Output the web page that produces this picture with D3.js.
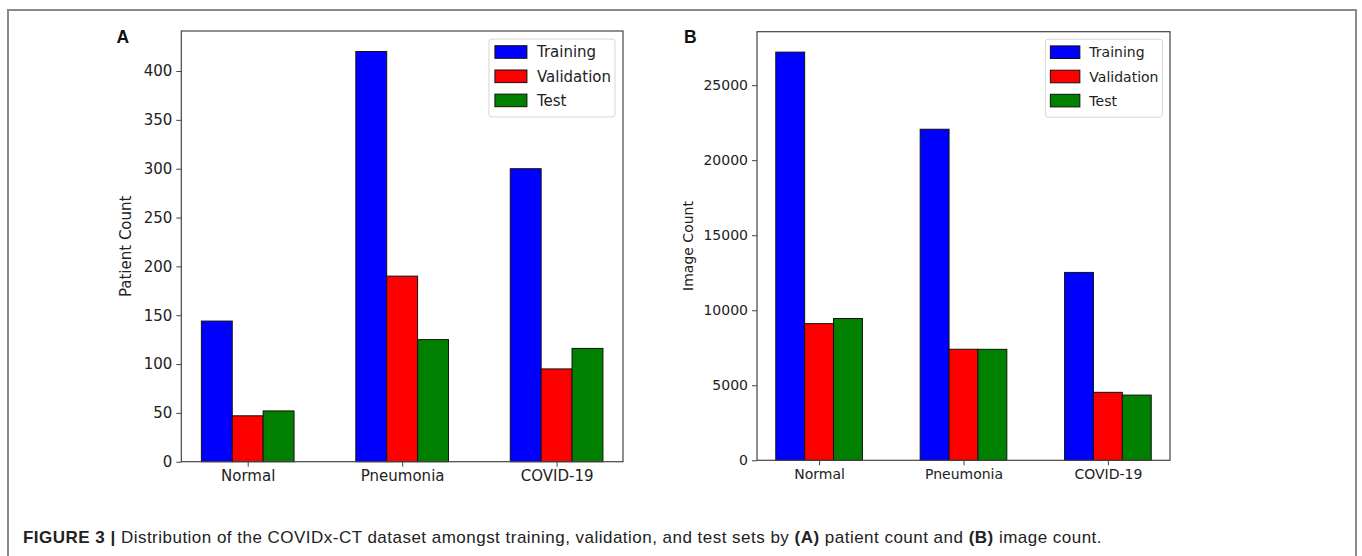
<!DOCTYPE html>
<html>
<head>
<meta charset="utf-8">
<script src="https://cdn.jsdelivr.net/npm/d3@7"></script>
<style>
  body { margin: 0; background: #fff; }
  svg { display: block; }
  .tick text { font-family: "DejaVu Sans", sans-serif; fill: #222; }
</style>
</head>
<body>
<svg id="fig" width="1362" height="556"></svg>
<script>
// categories and series
var categories = ["Normal", "Pneumonia", "COVID-19"];
var seriesNames = ["Training", "Validation", "Test"];
var seriesColors = ["#0000ff", "#ff0000", "#008000"];

// panel A: patient counts per category
var patientTraining = [144, 420, 300];
var patientValidation = [47, 190, 95];
var patientTest = [52, 125, 116];
var patientTicks = [0, 50, 100, 150, 200, 250, 300, 350, 400];

// panel B: image counts
var imageTraining = [27201, 22061, 12520];
var imageValidation = [9107, 7400, 4529];
var imageTest = [9450, 7395, 4346];
var imageTicks = [0, 5000, 10000, 15000, 20000, 25000];

var svg = d3.select("#fig");

// outer figure frame (open at the bottom)
svg.append("path")
    .attr("d", "M8,556 V10 H1356 V556")
    .attr("fill", "none")
    .attr("stroke", "#8a8a8a")
    .attr("stroke-width", 2);

function drawPanel(cfg) {
    var g = svg.append("g");
    var series = [cfg.training, cfg.validation, cfg.test];
    var barW = 0.2;

    // matplotlib style limits: bar extent plus 5% margin, y up to max*1.05
    var lo = -barW * 1.5, hi = categories.length - 1 + barW * 1.5;
    var pad = (hi - lo) * 0.05;
    var x = d3.scaleLinear().domain([lo - pad, hi + pad]).range([cfg.left, cfg.right]);
    var ymax = d3.max(series, function(s) { return d3.max(s); }) * 1.05;
    var y = d3.scaleLinear().domain([0, ymax]).range([cfg.bottom, cfg.top]);

    var bars = [];
    series.forEach(function(s, si) {
        s.forEach(function(v, ci) {
            bars.push({ci: ci, si: si, v: v});
        });
    });

    g.selectAll("rect.bar").data(bars).enter().append("rect")
        .attr("class", "bar")
        .attr("x", function(d) { return x(d.ci + (d.si - 1.5) * barW); })
        .attr("width", function(d) { return x(barW) - x(0); })
        .attr("y", function(d) { return y(d.v); })
        .attr("height", function(d) { return y(0) - y(d.v); })
        .attr("fill", function(d) { return seriesColors[d.si]; })
        .attr("stroke", "#111")
        .attr("stroke-width", 1);

    // axes
    var yAxis = d3.axisLeft(y).tickValues(cfg.ticks).tickSize(5).tickPadding(4).tickFormat(d3.format("d"));
    var gy = g.append("g").attr("transform", "translate(" + cfg.left + ",0)").call(yAxis);
    var xAxis = d3.axisBottom(x).tickValues(d3.range(categories.length)).tickSize(5).tickPadding(4)
        .tickFormat(function(i) { return categories[i]; });
    var gx = g.append("g").attr("transform", "translate(0," + cfg.bottom + ")").call(xAxis);
    [gx, gy].forEach(function(a) {
        a.select(".domain").remove();
        a.selectAll(".tick line").attr("stroke", "#444");
        a.selectAll(".tick text").style("font-size", cfg.fs + "px");
    });

    // frame
    g.append("rect")
        .attr("x", cfg.left).attr("y", cfg.top)
        .attr("width", cfg.right - cfg.left).attr("height", cfg.bottom - cfg.top)
        .attr("fill", "none").attr("stroke", "#444").attr("stroke-width", 1.2);

    // y label
    g.append("text")
        .attr("transform", "translate(" + cfg.ylabelX + "," + ((cfg.top + cfg.bottom) / 2) + ") rotate(-90)")
        .attr("text-anchor", "middle")
        .style("font-family", "DejaVu Sans, sans-serif")
        .style("font-size", cfg.fs + "px")
        .attr("fill", "#222")
        .text(cfg.ylabel);

    // panel letter
    g.append("text")
        .attr("x", cfg.letterX).attr("y", 42.5)
        .style("font-family", "Liberation Sans, Arial, sans-serif")
        .style("font-size", "17.5px").style("font-weight", "bold")
        .attr("fill", "#111")
        .text(cfg.letter);

    // legend
    var lg = g.append("g");
    var box = lg.append("rect")
        .attr("fill", "#fff").attr("fill-opacity", 0.8)
        .attr("stroke", "#d6d6d6").attr("rx", 3);
    var rowY = [13, 37.3, 61.4];
    var maxW = 0;
    seriesNames.forEach(function(name, i) {
        lg.append("rect")
            .attr("x", cfg.patchX).attr("y", rowY[i] - 6.3)
            .attr("width", cfg.patchW).attr("height", 12.6)
            .attr("fill", seriesColors[i]).attr("stroke", "#111");
        var t = lg.append("text")
            .attr("x", cfg.patchX + cfg.patchW + cfg.textGap).attr("y", rowY[i])
            .attr("dy", "0.36em")
            .style("font-family", "DejaVu Sans, sans-serif")
            .style("font-size", cfg.fs + "px")
            .attr("fill", "#222")
            .text(name);
        maxW = Math.max(maxW, t.node().getComputedTextLength());
    });
    var boxW = cfg.patchX + cfg.patchW + cfg.textGap + maxW + 4;
    box.attr("x", 0).attr("y", 0).attr("width", boxW).attr("height", 78);
    lg.attr("transform", "translate(" + (cfg.right - cfg.legendPad - boxW) + "," + (cfg.top + cfg.legendPad) + ")");
}

drawPanel({
    letter: "A", letterX: 116.5, ylabel: "Patient Count", ylabelX: 131,
    training: patientTraining, validation: patientValidation, test: patientTest, ticks: patientTicks,
    left: 181.3, right: 623, top: 31, bottom: 461.7, fs: 15,
    patchX: 6, patchW: 32, textGap: 10, legendPad: 8
});

drawPanel({
    letter: "B", letterX: 684, ylabel: "Image Count", ylabelX: 693,
    training: imageTraining, validation: imageValidation, test: imageTest, ticks: imageTicks,
    left: 757, right: 1170, top: 31.7, bottom: 460.3, fs: 14,
    patchX: 5, patchW: 29.5, textGap: 9.5, legendPad: 7.5
});

// caption
var cap = svg.append("text")
    .attr("x", 23).attr("y", 543)
    .style("font-family", "Liberation Sans, Arial, sans-serif")
    .style("font-size", "17px")
    .attr("fill", "#222");
cap.append("tspan").style("font-weight", "bold").text("FIGURE 3 | ");
cap.append("tspan").text("Distribution of the COVIDx-CT dataset amongst training, validation, and test sets by ");
cap.append("tspan").style("font-weight", "bold").text("(A)");
cap.append("tspan").text(" patient count and ");
cap.append("tspan").style("font-weight", "bold").text("(B)");
cap.append("tspan").text(" image count.");
// the caption font in the figure runs wider than Arial: spread it to the same span
var capW = cap.node().getComputedTextLength();
var nChars = cap.text().length;
cap.style("letter-spacing", ((1079 - capW) / nChars) + "px");
</script>
</body>
</html>
